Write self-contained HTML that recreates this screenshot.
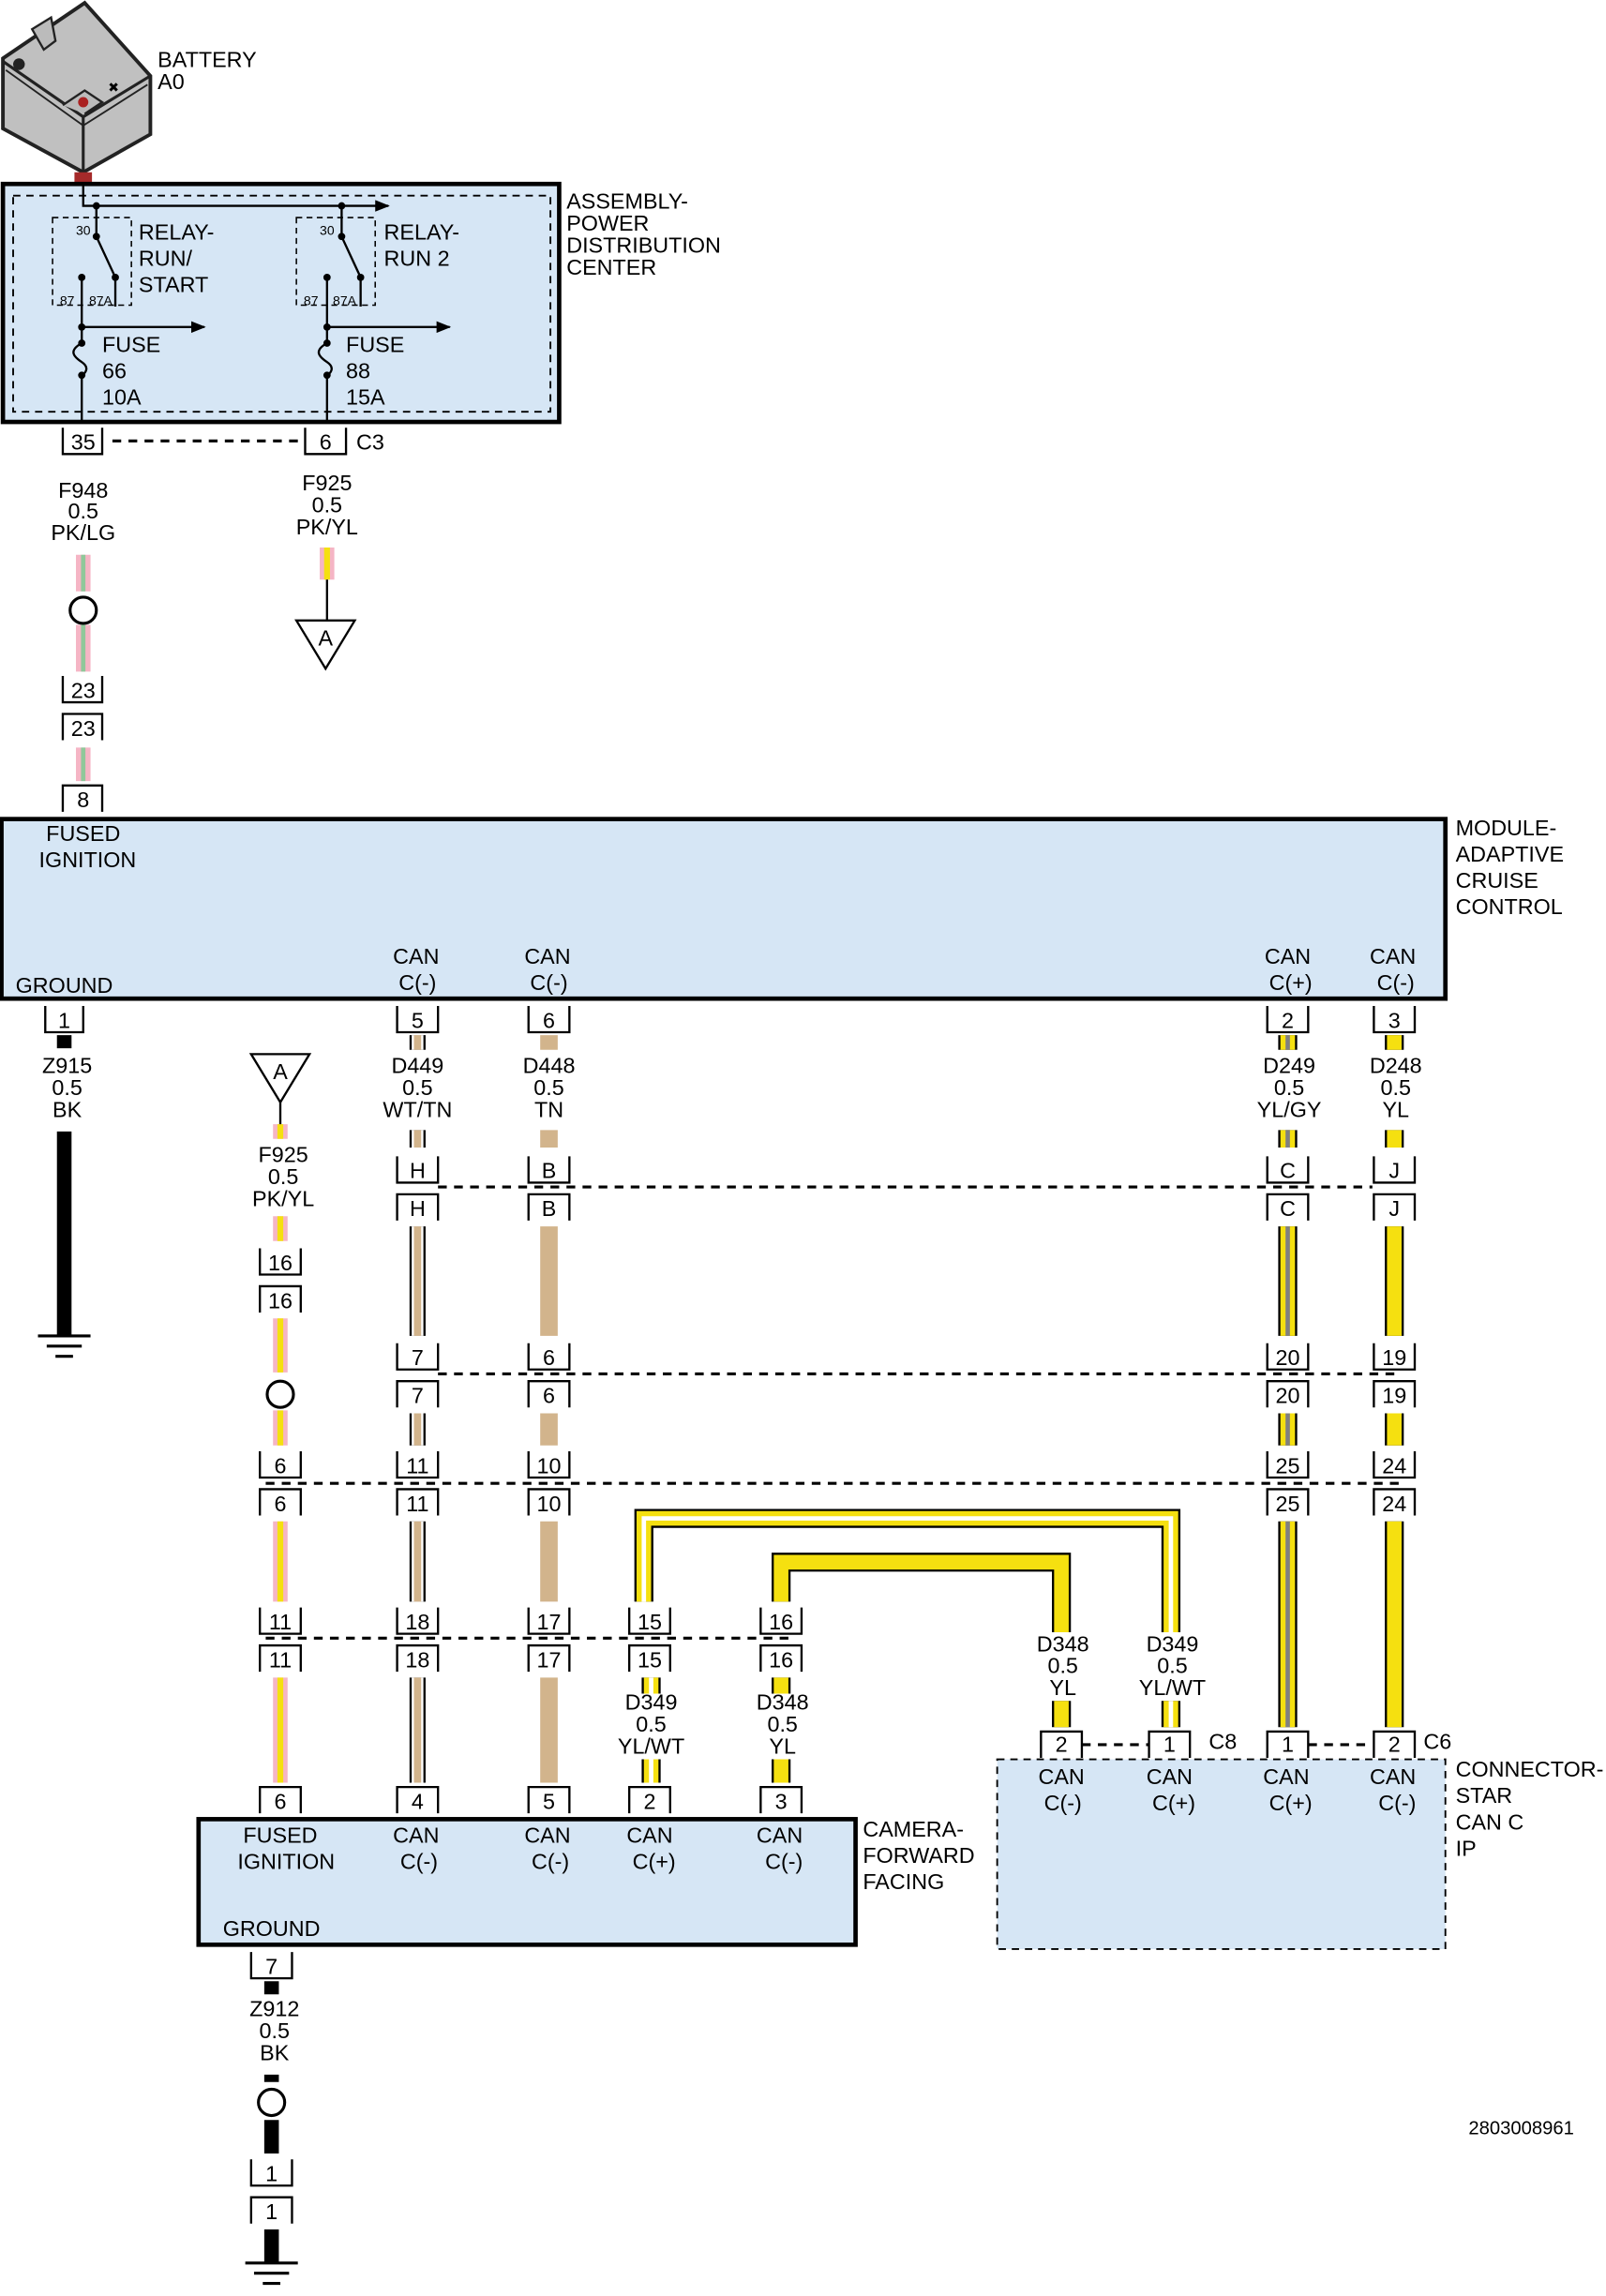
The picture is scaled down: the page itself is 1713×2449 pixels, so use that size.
<!DOCTYPE html>
<html><head><meta charset="utf-8"><style>
html,body{margin:0;padding:0;background:#fff}
svg{display:block}
text{font-family:"Liberation Sans","DejaVu Sans",sans-serif;font-size:15px;fill:#000}
.c{text-anchor:middle}
.s{font-size:9px}
</style></head><body>
<svg width="1713" height="2449" viewBox="0 0 1100 1572.6" preserveAspectRatio="none" xmlns="http://www.w3.org/2000/svg">
<defs>
<marker id="ar" markerWidth="10" markerHeight="8" refX="9" refY="4" orient="auto" markerUnits="userSpaceOnUse"><path d="M0,0 L10,4 L0,8 z" fill="#000"/></marker>
<path id="wpl" d="M57,380V405M57,428V460M57,512V535"/>
<path id="wpy1" d="M224,375V397"/>
<path id="wpy2" d="M192,770V780M192,833V850M192,903V940M192,966V990M192,1042V1097M192,1149V1221"/>
<path id="w449" d="M286,709V719M286,774V786M286,840V915M286,968V990M286,1042V1097M286,1149V1221"/>
<path id="w448" d="M376,709V719M376,774V786M376,840V915M376,968V990M376,1042V1097M376,1149V1221"/>
<path id="w249" d="M882,709V719M882,774V786M882,840V915M882,968V990M882,1042V1183"/>
<path id="w248" d="M955,709V719M955,774V786M955,840V915M955,968V990M955,1042V1183"/>
<path id="w349" d="M441,1097V1040H802V1118M802,1165V1183M446,1149V1160M446,1205V1221"/>
<path id="w348" d="M535,1097V1070H727V1118M727,1165V1183M535,1149V1160M535,1205V1221"/>
</defs>

<!-- battery -->
<polygon points="2,40 58,2 103,52 103,92 57,118 2,88" fill="#c0c0c0" stroke="#222" stroke-width="2.5"/>
<polyline points="2,42 57,80 103,52" fill="none" stroke="#222" stroke-width="2"/>
<line x1="57" y1="80" x2="57" y2="118" stroke="#222" stroke-width="2"/>
<polyline points="4,48 57,86 101,58" fill="none" stroke="#222" stroke-width="1.2"/>
<polygon points="22,20 35,12 38,28 30,34" fill="#bbb" stroke="#222" stroke-width="1.5"/>
<polyline points="43,72 58,62 70,70 58,78" fill="#bbb" stroke="#222" stroke-width="1.5"/>
<circle cx="13" cy="44" r="4" fill="#222"/>
<circle cx="57" cy="70" r="3.5" fill="#a22"/>
<text x="74" y="63" style="font-size:9px">✖</text>
<rect x="51" y="118" width="12" height="8" fill="#a52a2a"/>
<text x="108" y="46">BATTERY</text><text x="108" y="61">A0</text>

<!-- PDC -->
<rect x="2" y="126" width="381" height="163" fill="#d6e6f5" stroke="#000" stroke-width="3"/>
<rect x="9" y="134" width="368" height="148" fill="none" stroke="#000" stroke-width="1.2" stroke-dasharray="5,4"/>
<g stroke="#000" stroke-width="1.5" fill="none">
<path d="M57,126V141H266" marker-end="url(#ar)"/>
<rect x="36" y="149" width="54" height="60" stroke-dasharray="4,3" stroke-width="1"/>
<rect x="203" y="149" width="54" height="60" stroke-dasharray="4,3" stroke-width="1"/>
<path d="M66,141V162L79,190V210"/>
<path d="M234,141V162L247,190V210"/>
<path d="M56,190V235M56,257V289"/>
<path d="M224,190V235M224,257V289"/>
<path d="M56,235C47,240 50,244 56,248C62,252 58,256 56,257"/>
<path d="M224,235C215,240 218,244 224,248C230,252 226,256 224,257"/>
<path d="M56,224H140" marker-end="url(#ar)"/>
<path d="M224,224H308" marker-end="url(#ar)"/>
</g>
<g fill="#000"><circle cx="66" cy="141" r="2.5"/><circle cx="234" cy="141" r="2.5"/><circle cx="66" cy="162" r="2.5"/><circle cx="234" cy="162" r="2.5"/><circle cx="79" cy="190" r="2.5"/><circle cx="247" cy="190" r="2.5"/><circle cx="56" cy="190" r="2.5"/><circle cx="224" cy="190" r="2.5"/><circle cx="56" cy="224" r="2.5"/><circle cx="224" cy="224" r="2.5"/><circle cx="56" cy="235" r="2.5"/><circle cx="224" cy="235" r="2.5"/><circle cx="56" cy="257" r="2.5"/><circle cx="224" cy="257" r="2.5"/></g>
<text x="52" y="161" class="s">30</text><text x="219" y="161" class="s">30</text>
<text x="41" y="209" class="s">87</text><text x="61" y="209" class="s">87A</text>
<text x="208" y="209" class="s">87</text><text x="228" y="209" class="s">87A</text>
<text x="95" y="164">RELAY-</text><text x="95" y="182">RUN/</text><text x="95" y="200">START</text>
<text x="263" y="164">RELAY-</text><text x="263" y="182">RUN 2</text>
<text x="70" y="241">FUSE</text><text x="70" y="259">66</text><text x="70" y="277">10A</text>
<text x="237" y="241">FUSE</text><text x="237" y="259">88</text><text x="237" y="277">15A</text>
<text x="388" y="143">ASSEMBLY-</text><text x="388" y="158">POWER</text><text x="388" y="173">DISTRIBUTION</text><text x="388" y="188">CENTER</text>

<!-- wires -->
<g fill="none">
<use href="#wpl" stroke="#f5b5c5" stroke-width="10"/><use href="#wpl" stroke="#8fc89a" stroke-width="3"/>
<use href="#wpy1" stroke="#f5b5c5" stroke-width="10"/><use href="#wpy1" stroke="#f5e010" stroke-width="4"/>
<use href="#wpy2" stroke="#f5b5c5" stroke-width="10"/><use href="#wpy2" stroke="#f5e010" stroke-width="4"/>
<use href="#w449" stroke="#000" stroke-width="11"/><use href="#w449" stroke="#fff" stroke-width="8"/><use href="#w449" stroke="#d2b48c" stroke-width="5"/>
<use href="#w448" stroke="#d2b48c" stroke-width="12"/>
<use href="#w249" stroke="#000" stroke-width="13"/><use href="#w249" stroke="#f5e010" stroke-width="10"/><use href="#w249" stroke="#808080" stroke-width="3"/>
<use href="#w248" stroke="#000" stroke-width="13"/><use href="#w248" stroke="#f5e010" stroke-width="10"/>
<use href="#w349" stroke="#000" stroke-width="13"/><use href="#w349" stroke="#f5e010" stroke-width="10"/><use href="#w349" stroke="#fff" stroke-width="3"/>
<use href="#w348" stroke="#000" stroke-width="13"/><use href="#w348" stroke="#f5e010" stroke-width="10"/>
<path d="M44,709V718M44,775V915M186,1357V1366M186,1421V1426M186,1452V1475M186,1527V1550" stroke="#000" stroke-width="10"/>
</g>
<line x1="224" y1="397" x2="224" y2="425" stroke="#000" stroke-width="1.5"/>
<polygon points="203,425 243,425 223,458" fill="#fff" stroke="#000" stroke-width="1.5"/><text x="223" y="442" class="c">A</text>
<polygon points="172,722 212,722 192,755" fill="#fff" stroke="#000" stroke-width="1.5"/><text x="192" y="739" class="c">A</text>
<line x1="192" y1="755" x2="192" y2="770" stroke="#000" stroke-width="1.5"/>
<circle cx="57" cy="418" r="9" fill="#fff" stroke="#000" stroke-width="2"/>
<circle cx="192" cy="955" r="9" fill="#fff" stroke="#000" stroke-width="2"/>
<circle cx="186" cy="1440" r="9" fill="#fff" stroke="#000" stroke-width="2"/>

<!-- grounds -->
<g stroke="#000" stroke-width="2"><path d="M26,915H62M32,922H56M38,929H50"/><path d="M168,1550H204M174,1557H198M180,1564H192"/></g>

<!-- wire labels -->
<text x="57" y="341" class="c">F948</text><text x="57" y="355" class="c">0.5</text><text x="57" y="370" class="c">PK/LG</text>
<text x="224" y="336" class="c">F925</text><text x="224" y="351" class="c">0.5</text><text x="224" y="366" class="c">PK/YL</text>
<text x="194" y="796" class="c">F925</text><text x="194" y="811" class="c">0.5</text><text x="194" y="826" class="c">PK/YL</text>
<text x="46" y="735" class="c">Z915</text><text x="46" y="750" class="c">0.5</text><text x="46" y="765" class="c">BK</text>
<text x="286" y="735" class="c">D449</text><text x="286" y="750" class="c">0.5</text><text x="286" y="765" class="c">WT/TN</text>
<text x="376" y="735" class="c">D448</text><text x="376" y="750" class="c">0.5</text><text x="376" y="765" class="c">TN</text>
<text x="883" y="735" class="c">D249</text><text x="883" y="750" class="c">0.5</text><text x="883" y="765" class="c">YL/GY</text>
<text x="956" y="735" class="c">D248</text><text x="956" y="750" class="c">0.5</text><text x="956" y="765" class="c">YL</text>
<text x="446" y="1171" class="c">D349</text><text x="446" y="1186" class="c">0.5</text><text x="446" y="1201" class="c">YL/WT</text>
<text x="536" y="1171" class="c">D348</text><text x="536" y="1186" class="c">0.5</text><text x="536" y="1201" class="c">YL</text>
<text x="728" y="1131" class="c">D348</text><text x="728" y="1146" class="c">0.5</text><text x="728" y="1161" class="c">YL</text>
<text x="803" y="1131" class="c">D349</text><text x="803" y="1146" class="c">0.5</text><text x="803" y="1161" class="c">YL/WT</text>
<text x="188" y="1381" class="c">Z912</text><text x="188" y="1396" class="c">0.5</text><text x="188" y="1411" class="c">BK</text>

<!-- module -->
<rect x="1" y="561" width="989" height="123" fill="#d6e6f5" stroke="#000" stroke-width="3"/>
<text x="57" y="576" class="c">FUSED</text><text x="60" y="594" class="c">IGNITION</text>
<text x="44" y="680" class="c">GROUND</text>
<text x="285" y="660" class="c">CAN</text><text x="286" y="678" class="c">C(-)</text>
<text x="375" y="660" class="c">CAN</text><text x="376" y="678" class="c">C(-)</text>
<text x="882" y="660" class="c">CAN</text><text x="884" y="678" class="c">C(+)</text>
<text x="954" y="660" class="c">CAN</text><text x="956" y="678" class="c">C(-)</text>
<text x="997" y="572">MODULE-</text><text x="997" y="590">ADAPTIVE</text><text x="997" y="608">CRUISE</text><text x="997" y="626">CONTROL</text>

<!-- dashed connector lines -->
<g stroke="#000" stroke-width="2" stroke-dasharray="6,5">
<path d="M77,302H204M300,813H940M300,941H960M182,1016H960M182,1122H545M741,1195H787M896,1195H940"/>
</g>
<text x="244" y="308">C3</text><text x="828" y="1198">C8</text><text x="975" y="1198">C6</text>

<!-- connectors -->
<g fill="#fff" stroke="#000" stroke-width="1.5">
<path d="M43,293V311H70V293M209,293V311H237V293M43,463V481H70V463M31,689V707H57V689M272,689V707H300V689M362,689V707H390V689M868,689V707H896V689M941,689V707H969V689M272,792V810H300V792M362,792V810H390V792M868,792V810H896V792M941,792V810H969V792M272,920V938H300V920M362,920V938H390V920M868,920V938H896V920M941,920V938H969V920M178,855V873H206V855M178,994V1012H206V994M272,994V1012H300V994M362,994V1012H390V994M868,994V1012H896V994M941,994V1012H969V994M178,1101V1119H206V1101M272,1101V1119H300V1101M362,1101V1119H390V1101M431,1101V1119H459V1101M521,1101V1119H549V1101M172,1337V1355H200V1337M172,1479V1497H200V1479"/>
<path d="M43,556V538H70V556M43,507V489H70V507M178,899V881H206V899M272,836V818H300V836M362,836V818H390V836M868,836V818H896V836M941,836V818H969V836M272,964V946H300V964M362,964V946H390V964M868,964V946H896V964M941,964V946H969V964M178,1038V1020H206V1038M272,1038V1020H300V1038M362,1038V1020H390V1038M868,1038V1020H896V1038M941,1038V1020H969V1038M178,1145V1127H206V1145M272,1145V1127H300V1145M362,1145V1127H390V1145M431,1145V1127H459V1145M521,1145V1127H549V1145M178,1242V1224H206V1242M272,1242V1224H300V1242M362,1242V1224H390V1242M431,1242V1224H459V1242M521,1242V1224H549V1242M713,1204V1186H741V1204M787,1204V1186H815V1204M868,1204V1186H896V1204M941,1204V1186H969V1204M172,1523V1505H200V1523"/>
</g>
<g class="c">
<text x="57" y="308" class="c">35</text><text x="223" y="308" class="c">6</text>
<text x="57" y="478" class="c">23</text><text x="57" y="504" class="c">23</text><text x="57" y="553" class="c">8</text>
<text x="44" y="704" class="c">1</text><text x="286" y="704" class="c">5</text><text x="376" y="704" class="c">6</text><text x="882" y="704" class="c">2</text><text x="955" y="704" class="c">3</text>
<text x="286" y="807" class="c">H</text><text x="376" y="807" class="c">B</text><text x="882" y="807" class="c">C</text><text x="955" y="807" class="c">J</text>
<text x="286" y="833" class="c">H</text><text x="376" y="833" class="c">B</text><text x="882" y="833" class="c">C</text><text x="955" y="833" class="c">J</text>
<text x="192" y="870" class="c">16</text><text x="192" y="896" class="c">16</text>
<text x="286" y="935" class="c">7</text><text x="376" y="935" class="c">6</text><text x="882" y="935" class="c">20</text><text x="955" y="935" class="c">19</text>
<text x="286" y="961" class="c">7</text><text x="376" y="961" class="c">6</text><text x="882" y="961" class="c">20</text><text x="955" y="961" class="c">19</text>
<text x="192" y="1009" class="c">6</text><text x="286" y="1009" class="c">11</text><text x="376" y="1009" class="c">10</text><text x="882" y="1009" class="c">25</text><text x="955" y="1009" class="c">24</text>
<text x="192" y="1035" class="c">6</text><text x="286" y="1035" class="c">11</text><text x="376" y="1035" class="c">10</text><text x="882" y="1035" class="c">25</text><text x="955" y="1035" class="c">24</text>
<text x="192" y="1116" class="c">11</text><text x="286" y="1116" class="c">18</text><text x="376" y="1116" class="c">17</text><text x="445" y="1116" class="c">15</text><text x="535" y="1116" class="c">16</text>
<text x="192" y="1142" class="c">11</text><text x="286" y="1142" class="c">18</text><text x="376" y="1142" class="c">17</text><text x="445" y="1142" class="c">15</text><text x="535" y="1142" class="c">16</text>
<text x="727" y="1200" class="c">2</text><text x="801" y="1200" class="c">1</text><text x="882" y="1200" class="c">1</text><text x="955" y="1200" class="c">2</text>
<text x="192" y="1239" class="c">6</text><text x="286" y="1239" class="c">4</text><text x="376" y="1239" class="c">5</text><text x="445" y="1239" class="c">2</text><text x="535" y="1239" class="c">3</text>
<text x="186" y="1352" class="c">7</text><text x="186" y="1494" class="c">1</text><text x="186" y="1520" class="c">1</text>
</g>

<!-- star connector -->
<rect x="683" y="1205" width="307" height="130" fill="#d6e6f5" stroke="#000" stroke-width="1.2" stroke-dasharray="5,4"/>
<text x="727" y="1222" class="c">CAN</text><text x="728" y="1240" class="c">C(-)</text>
<text x="801" y="1222" class="c">CAN</text><text x="804" y="1240" class="c">C(+)</text>
<text x="881" y="1222" class="c">CAN</text><text x="884" y="1240" class="c">C(+)</text>
<text x="954" y="1222" class="c">CAN</text><text x="957" y="1240" class="c">C(-)</text>
<text x="997" y="1217">CONNECTOR-</text><text x="997" y="1235">STAR</text><text x="997" y="1253">CAN C</text><text x="997" y="1271">IP</text>

<!-- camera -->
<rect x="136" y="1246" width="450" height="86" fill="#d6e6f5" stroke="#000" stroke-width="3"/>
<text x="192" y="1262" class="c">FUSED</text><text x="196" y="1280" class="c">IGNITION</text>
<text x="285" y="1262" class="c">CAN</text><text x="287" y="1280" class="c">C(-)</text>
<text x="375" y="1262" class="c">CAN</text><text x="377" y="1280" class="c">C(-)</text>
<text x="445" y="1262" class="c">CAN</text><text x="448" y="1280" class="c">C(+)</text>
<text x="534" y="1262" class="c">CAN</text><text x="537" y="1280" class="c">C(-)</text>
<text x="186" y="1326" class="c">GROUND</text>
<text x="591" y="1258">CAMERA-</text><text x="591" y="1276">FORWARD</text><text x="591" y="1294">FACING</text>

<text x="1042" y="1462" class="c" style="font-size:13px">2803008961</text>
</svg>
</body></html>
